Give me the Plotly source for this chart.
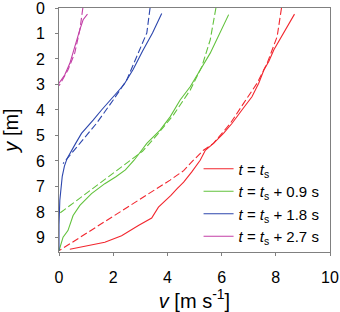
import plotly.graph_objects as go

# Series data (v [m/s], y [m])
red_solid_v = [8.69, 8.30, 7.93, 7.74, 7.56, 7.37, 7.12, 6.75, 6.38, 6.07, 5.70, 5.40, 5.21, 4.90, 4.60, 4.35, 4.13, 3.67, 3.42, 2.93, 2.31, 1.69, 0.40]
red_solid_y = [0.24, 0.98, 1.64, 2.10, 2.43, 2.95, 3.48, 4.00, 4.53, 4.92, 5.31, 5.58, 5.97, 6.43, 6.83, 7.09, 7.35, 7.81, 8.24, 8.53, 8.93, 9.19, 9.46]
red_dash_v = [8.21, 8.05, 7.68, 7.31, 6.81, 6.32, 5.70, 5.33, 4.96, 4.60, 4.10, 0.00]
red_dash_y = [0.00, 1.12, 2.17, 2.95, 3.74, 4.53, 5.31, 5.58, 5.97, 6.38, 6.75, 9.52]

green_solid_v = [6.26, 5.95, 5.58, 5.21, 4.84, 4.47, 4.10, 3.73, 3.24, 3.05, 2.77, 2.45, 2.10, 1.69, 1.20, 0.77, 0.52, 0.33, 0.15, 0.00]
green_solid_y = [0.26, 0.98, 1.77, 2.43, 3.09, 3.61, 4.27, 4.79, 5.31, 5.58, 5.97, 6.35, 6.62, 6.89, 7.28, 7.74, 8.14, 8.73, 8.99, 9.52]
green_dash_v = [5.79, 5.58, 5.27, 4.84, 4.22, 3.60, 3.08, 0.00]
green_dash_y = [0.00, 1.25, 2.30, 3.22, 4.20, 5.00, 5.62, 8.07]

blue_solid_v = [3.79, 3.45, 3.08, 2.74, 2.40, 1.88, 1.57, 1.26, 0.83, 0.62, 0.45, 0.30, 0.20, 0.12, 0.03, 0.00, 0.00]
blue_solid_y = [0.22, 0.98, 1.70, 2.40, 3.00, 3.61, 4.00, 4.40, 4.92, 5.30, 5.60, 5.90, 6.20, 6.60, 7.55, 8.50, 9.52]
blue_dash_v = [3.36, 3.24, 2.87, 2.50, 2.00, 1.38, 0.77, 0.40, 0.15]
blue_dash_y = [0.00, 0.98, 1.90, 2.82, 3.61, 4.53, 5.31, 5.80, 6.10]

mag_solid_v = [1.05, 0.89, 0.77, 0.58, 0.40, 0.21, 0.00]
mag_solid_y = [0.24, 0.46, 0.85, 1.51, 2.17, 2.63, 2.95]
mag_dash_v = [0.88, 0.77, 0.58, 0.33, 0.09, 0.00]
mag_dash_y = [0.00, 0.85, 1.77, 2.43, 2.89, 3.05]

labels = ["<i>t</i> = <i>t</i><sub>s</sub>",
          "<i>t</i> = <i>t</i><sub>s</sub> + 0.9 s",
          "<i>t</i> = <i>t</i><sub>s</sub> + 1.8 s",
          "<i>t</i> = <i>t</i><sub>s</sub> + 2.7 s"]
colors = ["#f2262e", "#62c23c", "#2c46ad", "#c33fa6"]

x_ticks = [0, 2, 4, 6, 8, 10]
y_ticks = [0, 1, 2, 3, 4, 5, 6, 7, 8, 9]

series = [
    (red_solid_v, red_solid_y, red_dash_v, red_dash_y),
    (green_solid_v, green_solid_y, green_dash_v, green_dash_y),
    (blue_solid_v, blue_solid_y, blue_dash_v, blue_dash_y),
    (mag_solid_v, mag_solid_y, mag_dash_v, mag_dash_y),
]

fig = go.Figure()
for (sv, sy, dv, dy), lab, col in zip(series, labels, colors):
    fig.add_trace(go.Scatter(x=sv, y=sy, mode="lines", name=lab,
                             line=dict(color=col, width=1.1)))
    fig.add_trace(go.Scatter(x=dv, y=dy, mode="lines", showlegend=False,
                             line=dict(color=col, width=1.1, dash="7px,3px")))

font_family = "Liberation Sans, Arial, sans-serif"
fig.update_layout(
    width=340, height=312,
    margin=dict(l=59, r=10, t=8, b=60),
    paper_bgcolor="white", plot_bgcolor="white",
    font=dict(family=font_family, color="black", size=16),
    showlegend=True,
    legend=dict(x=0.515, y=0.408, xanchor="left", yanchor="top",
                bgcolor="rgba(0,0,0,0)", borderwidth=0,
                font=dict(size=15), itemwidth=30, tracegroupgap=0),
    xaxis=dict(range=[0, 10], tickvals=x_ticks, ticktext=[str(v) for v in x_ticks],
               showgrid=False, zeroline=False, showline=True, mirror=True,
               linecolor="#808080", linewidth=1, automargin=False,
               ticks="outside", ticklen=3, tickcolor="#808080",
               tickfont=dict(size=16), ticklabelstandoff=8, ticklabeloverflow="allow",
               title=dict(text="<i>v</i> [m s<sup>-1</sup>]", font=dict(size=20), standoff=6)),
    yaxis=dict(range=[9.57, 0], tickvals=y_ticks, ticktext=[str(v) for v in y_ticks],
               showgrid=False, zeroline=False, showline=True, mirror=True,
               linecolor="#808080", linewidth=1, automargin=False,
               ticks="outside", ticklen=3, tickcolor="#808080",
               tickfont=dict(size=16), ticklabelstandoff=7, ticklabeloverflow="allow",
               title=dict(text="<i>y</i> [m]", font=dict(size=20), standoff=12)),
)

fig.write_html("out.html", config={"displayModeBar": False},
               post_script="document.body.style.margin='0';document.body.style.overflow='hidden';")
